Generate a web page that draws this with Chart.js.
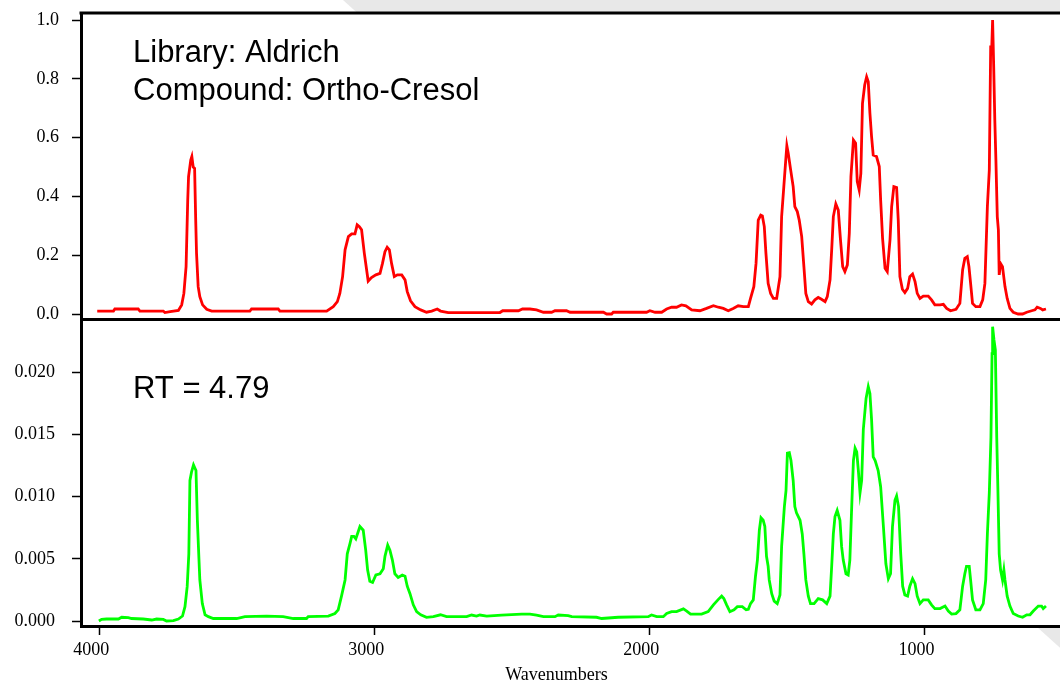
<!DOCTYPE html>
<html>
<head>
<meta charset="utf-8">
<title>Ortho-Cresol IR spectrum</title>
<script src="https://cdn.jsdelivr.net/npm/chart.js@4.4.1/dist/chart.umd.min.js"></script>
<style>
  html, body { margin: 0; padding: 0; background: #fff; overflow: hidden; }
  canvas { display: block; }
</style>
</head>
<body>
<canvas id="spectra" width="1060" height="684"></canvas>
<script>
// Library reference spectrum (Aldrich, ortho-cresol): wavenumber, absorbance
const libraryWavenumbers = [
  4007, 3948, 3943, 3858, 3852, 3767, 3761, 3742, 3712, 3700, 3692, 3684, 3678, 3675, 3667, 3663,
  3658, 3653, 3649, 3646, 3640, 3634, 3624, 3609, 3591, 3452, 3446, 3349, 3343, 3173, 3149, 3134,
  3125, 3115, 3106, 3094, 3082, 3070, 3062, 3054, 3046, 3036, 3022, 3010, 2994, 2979, 2970, 2961,
  2953, 2945, 2937, 2927, 2916, 2900, 2888, 2880, 2868, 2852, 2831, 2810, 2791, 2771, 2759, 2731,
  2543, 2533, 2476, 2461, 2434, 2410, 2385, 2355, 2343, 2301, 2288, 2167, 2155, 2137, 2131, 2010,
  1998, 1979, 1955, 1937, 1919, 1901, 1883, 1867, 1846, 1816, 1792, 1767, 1749, 1731, 1713, 1695,
  1677, 1658, 1640, 1632, 1620, 1612, 1604, 1595, 1589, 1582, 1576, 1568, 1559, 1549, 1537, 1525,
  1519, 1511, 1504, 1500, 1495, 1486, 1477, 1471, 1462, 1455, 1446, 1438, 1431, 1422, 1410, 1398,
  1386, 1374, 1361, 1353, 1343, 1337, 1331, 1322, 1313, 1305, 1297, 1289, 1280, 1273, 1267, 1258,
  1250, 1244, 1237, 1231, 1225, 1217, 1210, 1204, 1198, 1192, 1186, 1174, 1164, 1159, 1152, 1143,
  1135, 1125, 1119, 1111, 1101, 1095, 1089, 1080, 1071, 1061, 1053, 1043, 1034, 1026, 1016, 1004,
  986, 974, 962, 943, 931, 919, 905, 885, 871, 861, 853, 844, 838, 832, 825, 813,
  798, 788, 780, 771, 764, 759, 755, 752, 748, 744, 740, 735, 731, 728, 723, 716,
  707, 699, 689, 677, 659, 643, 628, 610, 598, 590, 578, 570, 558
];
const libraryAbsorbance = [
  0.011, 0.011, 0.018, 0.018, 0.011, 0.011, 0.006, 0.009, 0.013, 0.032, 0.071, 0.162, 0.388, 0.468, 0.524, 0.536,
  0.500, 0.496, 0.320, 0.207, 0.094, 0.060, 0.032, 0.017, 0.011, 0.011, 0.018, 0.018, 0.011, 0.011, 0.026, 0.043,
  0.071, 0.128, 0.219, 0.264, 0.273, 0.273, 0.304, 0.298, 0.287, 0.207, 0.113, 0.125, 0.134, 0.139, 0.173, 0.213,
  0.228, 0.219, 0.173, 0.128, 0.134, 0.134, 0.117, 0.077, 0.046, 0.026, 0.015, 0.007, 0.011, 0.018, 0.011, 0.006,
  0.006, 0.012, 0.012, 0.018, 0.018, 0.015, 0.007, 0.007, 0.012, 0.012, 0.007, 0.007, 0.001, 0.001, 0.007, 0.007,
  0.012, 0.007, 0.007, 0.018, 0.024, 0.024, 0.032, 0.029, 0.015, 0.012, 0.020, 0.029, 0.024, 0.020, 0.012, 0.020,
  0.029, 0.026, 0.026, 0.054, 0.094, 0.173, 0.320, 0.337, 0.334, 0.298, 0.207, 0.105, 0.071, 0.054, 0.054, 0.128,
  0.332, 0.434, 0.524, 0.573, 0.547, 0.490, 0.434, 0.366, 0.349, 0.320, 0.264, 0.162, 0.071, 0.043, 0.035, 0.049,
  0.057, 0.051, 0.043, 0.060, 0.117, 0.219, 0.332, 0.375, 0.354, 0.253, 0.162, 0.145, 0.168, 0.275, 0.468, 0.592,
  0.581, 0.451, 0.422, 0.479, 0.717, 0.779, 0.807, 0.790, 0.683, 0.604, 0.541, 0.536, 0.502, 0.388, 0.258, 0.156,
  0.145, 0.253, 0.366, 0.434, 0.431, 0.320, 0.128, 0.085, 0.074, 0.088, 0.128, 0.137, 0.111, 0.071, 0.054, 0.062,
  0.062, 0.049, 0.032, 0.032, 0.034, 0.020, 0.012, 0.017, 0.037, 0.151, 0.190, 0.196, 0.162, 0.105, 0.037, 0.026,
  0.026, 0.049, 0.105, 0.366, 0.490, 0.909, 0.909, 1.000, 0.841, 0.660, 0.524, 0.332, 0.287, 0.134, 0.173, 0.162,
  0.094, 0.054, 0.020, 0.007, 0.001, 0.001, 0.007, 0.012, 0.015, 0.024, 0.020, 0.015, 0.018
];

// Sample spectrum recorded at retention time 4.79: wavenumber, absorbance
const sampleWavenumbers = [
  4001, 3991, 3973, 3930, 3918, 3894, 3882, 3840, 3809, 3791, 3767, 3755, 3730, 3712, 3697, 3688,
  3680, 3674, 3670, 3664, 3657, 3652, 3648, 3643, 3638, 3634, 3625, 3615, 3603, 3585, 3500, 3470,
  3391, 3331, 3294, 3246, 3240, 3167, 3143, 3131, 3119, 3106, 3098, 3088, 3082, 3074, 3067, 3058,
  3052, 3040, 3031, 3024, 3016, 3006, 2994, 2979, 2967, 2961, 2951, 2943, 2934, 2925, 2913, 2898,
  2888, 2880, 2870, 2858, 2846, 2831, 2810, 2785, 2759, 2737, 2664, 2646, 2628, 2616, 2591, 2537,
  2464, 2434, 2410, 2385, 2343, 2331, 2295, 2282, 2192, 2173, 2113, 2004, 1992, 1973, 1949, 1937,
  1919, 1901, 1876, 1864, 1850, 1810, 1786, 1767, 1749, 1737, 1729, 1719, 1707, 1692, 1680, 1662,
  1648, 1640, 1632, 1622, 1614, 1607, 1600, 1594, 1586, 1580, 1574, 1568, 1564, 1555, 1546, 1535,
  1525, 1519, 1509, 1503, 1498, 1491, 1485, 1477, 1471, 1465, 1452, 1444, 1438, 1431, 1422, 1414,
  1401, 1386, 1370, 1355, 1343, 1337, 1331, 1325, 1317, 1307, 1301, 1295, 1285, 1277, 1271, 1265,
  1258, 1252, 1246, 1240, 1234, 1228, 1222, 1212, 1204, 1198, 1192, 1186, 1179, 1168, 1159, 1149,
  1140, 1131, 1123, 1116, 1107, 1101, 1094, 1086, 1079, 1071, 1061, 1053, 1043, 1034, 1026, 1016,
  1004, 986, 974, 962, 943, 925, 913, 901, 885, 871, 861, 853, 847, 837, 832, 825,
  813, 798, 786, 777, 771, 764, 758, 754, 752, 747, 742, 737, 733, 728, 723, 716,
  711, 707, 699, 689, 677, 659, 643, 628, 616, 604, 586, 574, 568, 558
];
const sampleAbsorbance = [
  0.00000, 0.00013, 0.00016, 0.00016, 0.00030, 0.00027, 0.00020, 0.00016, 0.00008, 0.00016, 0.00013, 0.00000, 0.00003, 0.00016, 0.00040, 0.00115,
  0.00276, 0.00540, 0.01130, 0.01200, 0.01255, 0.01230, 0.01210, 0.00810, 0.00540, 0.00330, 0.00140, 0.00050, 0.00035, 0.00020, 0.00020, 0.00035,
  0.00040, 0.00035, 0.00020, 0.00020, 0.00035, 0.00040, 0.00060, 0.00090, 0.00200, 0.00330, 0.00540, 0.00625, 0.00680, 0.00680, 0.00660, 0.00720,
  0.00760, 0.00730, 0.00570, 0.00410, 0.00320, 0.00310, 0.00370, 0.00380, 0.00420, 0.00520, 0.00610, 0.00570, 0.00490, 0.00380, 0.00350, 0.00370,
  0.00360, 0.00280, 0.00220, 0.00130, 0.00075, 0.00050, 0.00030, 0.00035, 0.00050, 0.00035, 0.00035, 0.00048, 0.00040, 0.00048, 0.00040, 0.00048,
  0.00056, 0.00056, 0.00048, 0.00035, 0.00035, 0.00048, 0.00043, 0.00035, 0.00030, 0.00020, 0.00030, 0.00035, 0.00048, 0.00035, 0.00035, 0.00060,
  0.00075, 0.00075, 0.00097, 0.00080, 0.00056, 0.00056, 0.00075, 0.00130, 0.00174, 0.00200, 0.00180, 0.00130, 0.00075, 0.00090, 0.00115, 0.00115,
  0.00090, 0.00094, 0.00140, 0.00170, 0.00360, 0.00490, 0.00730, 0.00830, 0.00810, 0.00760, 0.00520, 0.00440, 0.00330, 0.00220, 0.00160, 0.00140,
  0.00210, 0.00600, 0.00920, 0.01050, 0.01350, 0.01354, 0.01290, 0.01130, 0.00920, 0.00870, 0.00810, 0.00700, 0.00540, 0.00330, 0.00200, 0.00140,
  0.00140, 0.00180, 0.00170, 0.00140, 0.00200, 0.00440, 0.00700, 0.00840, 0.00890, 0.00810, 0.00600, 0.00490, 0.00380, 0.00370, 0.00490, 0.00870,
  0.01290, 0.01390, 0.01360, 0.01210, 0.01030, 0.01130, 0.01540, 0.01790, 0.01885, 0.01830, 0.01620, 0.01320, 0.01290, 0.01210, 0.01080, 0.00760,
  0.00460, 0.00340, 0.00380, 0.00760, 0.00970, 0.01005, 0.00920, 0.00540, 0.00280, 0.00210, 0.00200, 0.00280, 0.00340, 0.00300, 0.00200, 0.00140,
  0.00170, 0.00170, 0.00130, 0.00100, 0.00100, 0.00120, 0.00080, 0.00056, 0.00060, 0.00090, 0.00280, 0.00380, 0.00440, 0.00440, 0.00330, 0.00170,
  0.00090, 0.00090, 0.00140, 0.00330, 0.00700, 0.01030, 0.01480, 0.02150, 0.02367, 0.02260, 0.02180, 0.01480, 0.01080, 0.00540, 0.00410, 0.00330,
  0.00410, 0.00330, 0.00200, 0.00120, 0.00060, 0.00040, 0.00030, 0.00050, 0.00050, 0.00080, 0.00120, 0.00120, 0.00100, 0.00120
];

// Axis ticks and text
const wavenumberTicks = [4000, 3000, 2000, 1000];
const libraryTicks = [0, 0.2, 0.4, 0.6, 0.8, 1.0];
const sampleTicks = [0, 0.005, 0.010, 0.015, 0.020];
const headerLines = ['Library: Aldrich', 'Compound: Ortho-Cresol'];
const sampleLabel = 'RT = 4.79';
const axisTitle = 'Wavenumbers';

const toPoints = (xs, ys) => xs.map((x, i) => ({ x, y: ys[i] }));

const serif = '"Liberation Serif", "Times New Roman", Times, serif';
const sans = '"Liberation Sans", Arial, Helvetica, sans-serif';

// Paints the page backdrop, the frame lines and the text labels
const framePlugin = {
  id: 'frame',
  beforeDraw(chart) {
    const { ctx, width, height, chartArea: a } = chart;
    ctx.save();
    ctx.fillStyle = '#ffffff';
    ctx.fillRect(0, 0, width, height);
    ctx.fillStyle = '#e8e8e8';
    ctx.beginPath();
    ctx.moveTo(343, 0);
    ctx.lineTo(width, 0);
    ctx.lineTo(width, (width - 343) / 1.107);
    ctx.closePath();
    ctx.fill();
    ctx.fillStyle = '#ffffff';
    ctx.fillRect(a.left, a.top, a.right - a.left, a.bottom - a.top);
    ctx.restore();
  },
  afterDraw(chart) {
    const { ctx, chartArea: a, scales } = chart;
    const split = scales.yLibrary.bottom;
    ctx.save();
    ctx.strokeStyle = '#000';
    ctx.lineWidth = 3;
    ctx.beginPath();
    ctx.moveTo(a.left - 1.5, a.top);
    ctx.lineTo(a.right, a.top);
    ctx.moveTo(a.left, split);
    ctx.lineTo(a.right, split);
    ctx.stroke();

    ctx.fillStyle = '#000';
    ctx.textAlign = 'left';
    ctx.textBaseline = 'alphabetic';
    ctx.font = '31px ' + sans;
    headerLines.forEach((line, i) => ctx.fillText(line, a.left + 52, a.top + 49.3 + i * 37.7));
    ctx.fillText(sampleLabel, a.left + 52, split + 78.2);

    ctx.textAlign = 'center';
    ctx.font = '18px ' + serif;
    ctx.fillText(axisTitle, a.left + 475.5, chart.height - 4);
    ctx.restore();
  }
};

// Fixed axis sizes; edge padding for overhanging labels is not wanted
const fixSize = (size) => (s) => {
  if (s.isHorizontal()) { s.height = size; } else { s.width = size; }
  s.paddingTop = 0; s.paddingBottom = 0; s.paddingLeft = 0; s.paddingRight = 0;
};

const tickFont = { family: serif, size: 18 };
const tickGrid = { drawOnChartArea: false, drawTicks: true, tickLength: 9, tickWidth: 1.5, tickColor: '#000' };
const axisBorder = { display: true, color: '#000', width: 3 };

new Chart(document.getElementById('spectra'), {
  type: 'line',
  data: {
    datasets: [
      {
        label: 'Library',
        data: toPoints(libraryWavenumbers, libraryAbsorbance),
        yAxisID: 'yLibrary',
        borderColor: '#ff0000',
        borderWidth: 2.8,
        pointRadius: 0,
        tension: 0,
        fill: false
      },
      {
        label: 'Sample',
        data: toPoints(sampleWavenumbers, sampleAbsorbance),
        yAxisID: 'ySample',
        borderColor: '#00ff00',
        borderWidth: 2.8,
        pointRadius: 0,
        tension: 0,
        fill: false
      }
    ]
  },
  options: {
    responsive: false,
    animation: false,
    events: [],
    layout: { padding: { top: 13, left: 0, right: 0, bottom: 0 } },
    plugins: { legend: { display: false }, tooltip: { enabled: false }, title: { display: false } },
    scales: {
      x: {
        type: 'linear',
        reverse: true,
        min: 507,
        max: 4066,
        afterBuildTicks: s => { s.ticks = wavenumberTicks.map(v => ({ value: v })); },
        afterFit: fixSize(58),
        ticks: {
          color: '#000',
          font: tickFont,
          padding: 4,
          labelOffset: -8,
          maxRotation: 0,
          autoSkip: false,
          callback: v => String(v)
        },
        grid: tickGrid,
        border: axisBorder
      },
      // stacked panels: the first axis listed sits at the bottom
      ySample: {
        type: 'linear',
        position: 'left',
        stack: 'panels',
        stackWeight: 1,
        min: -0.000402,
        max: 0.024246,
        afterBuildTicks: s => { s.ticks = sampleTicks.map(v => ({ value: v })); },
        afterFit: fixSize(81),
        ticks: { color: '#000', font: tickFont, padding: 17, callback: v => Number(v).toFixed(3) },
        grid: tickGrid,
        border: axisBorder
      },
      yLibrary: {
        type: 'linear',
        position: 'left',
        stack: 'panels',
        stackWeight: 1,
        min: -0.0177,
        max: 1.0238,
        afterBuildTicks: s => { s.ticks = libraryTicks.map(v => ({ value: v })); },
        afterFit: fixSize(81),
        ticks: { color: '#000', font: tickFont, padding: 13, callback: v => Number(v).toFixed(1) },
        grid: tickGrid,
        border: axisBorder
      }
    }
  },
  plugins: [framePlugin]
});
</script>
</body>
</html>
